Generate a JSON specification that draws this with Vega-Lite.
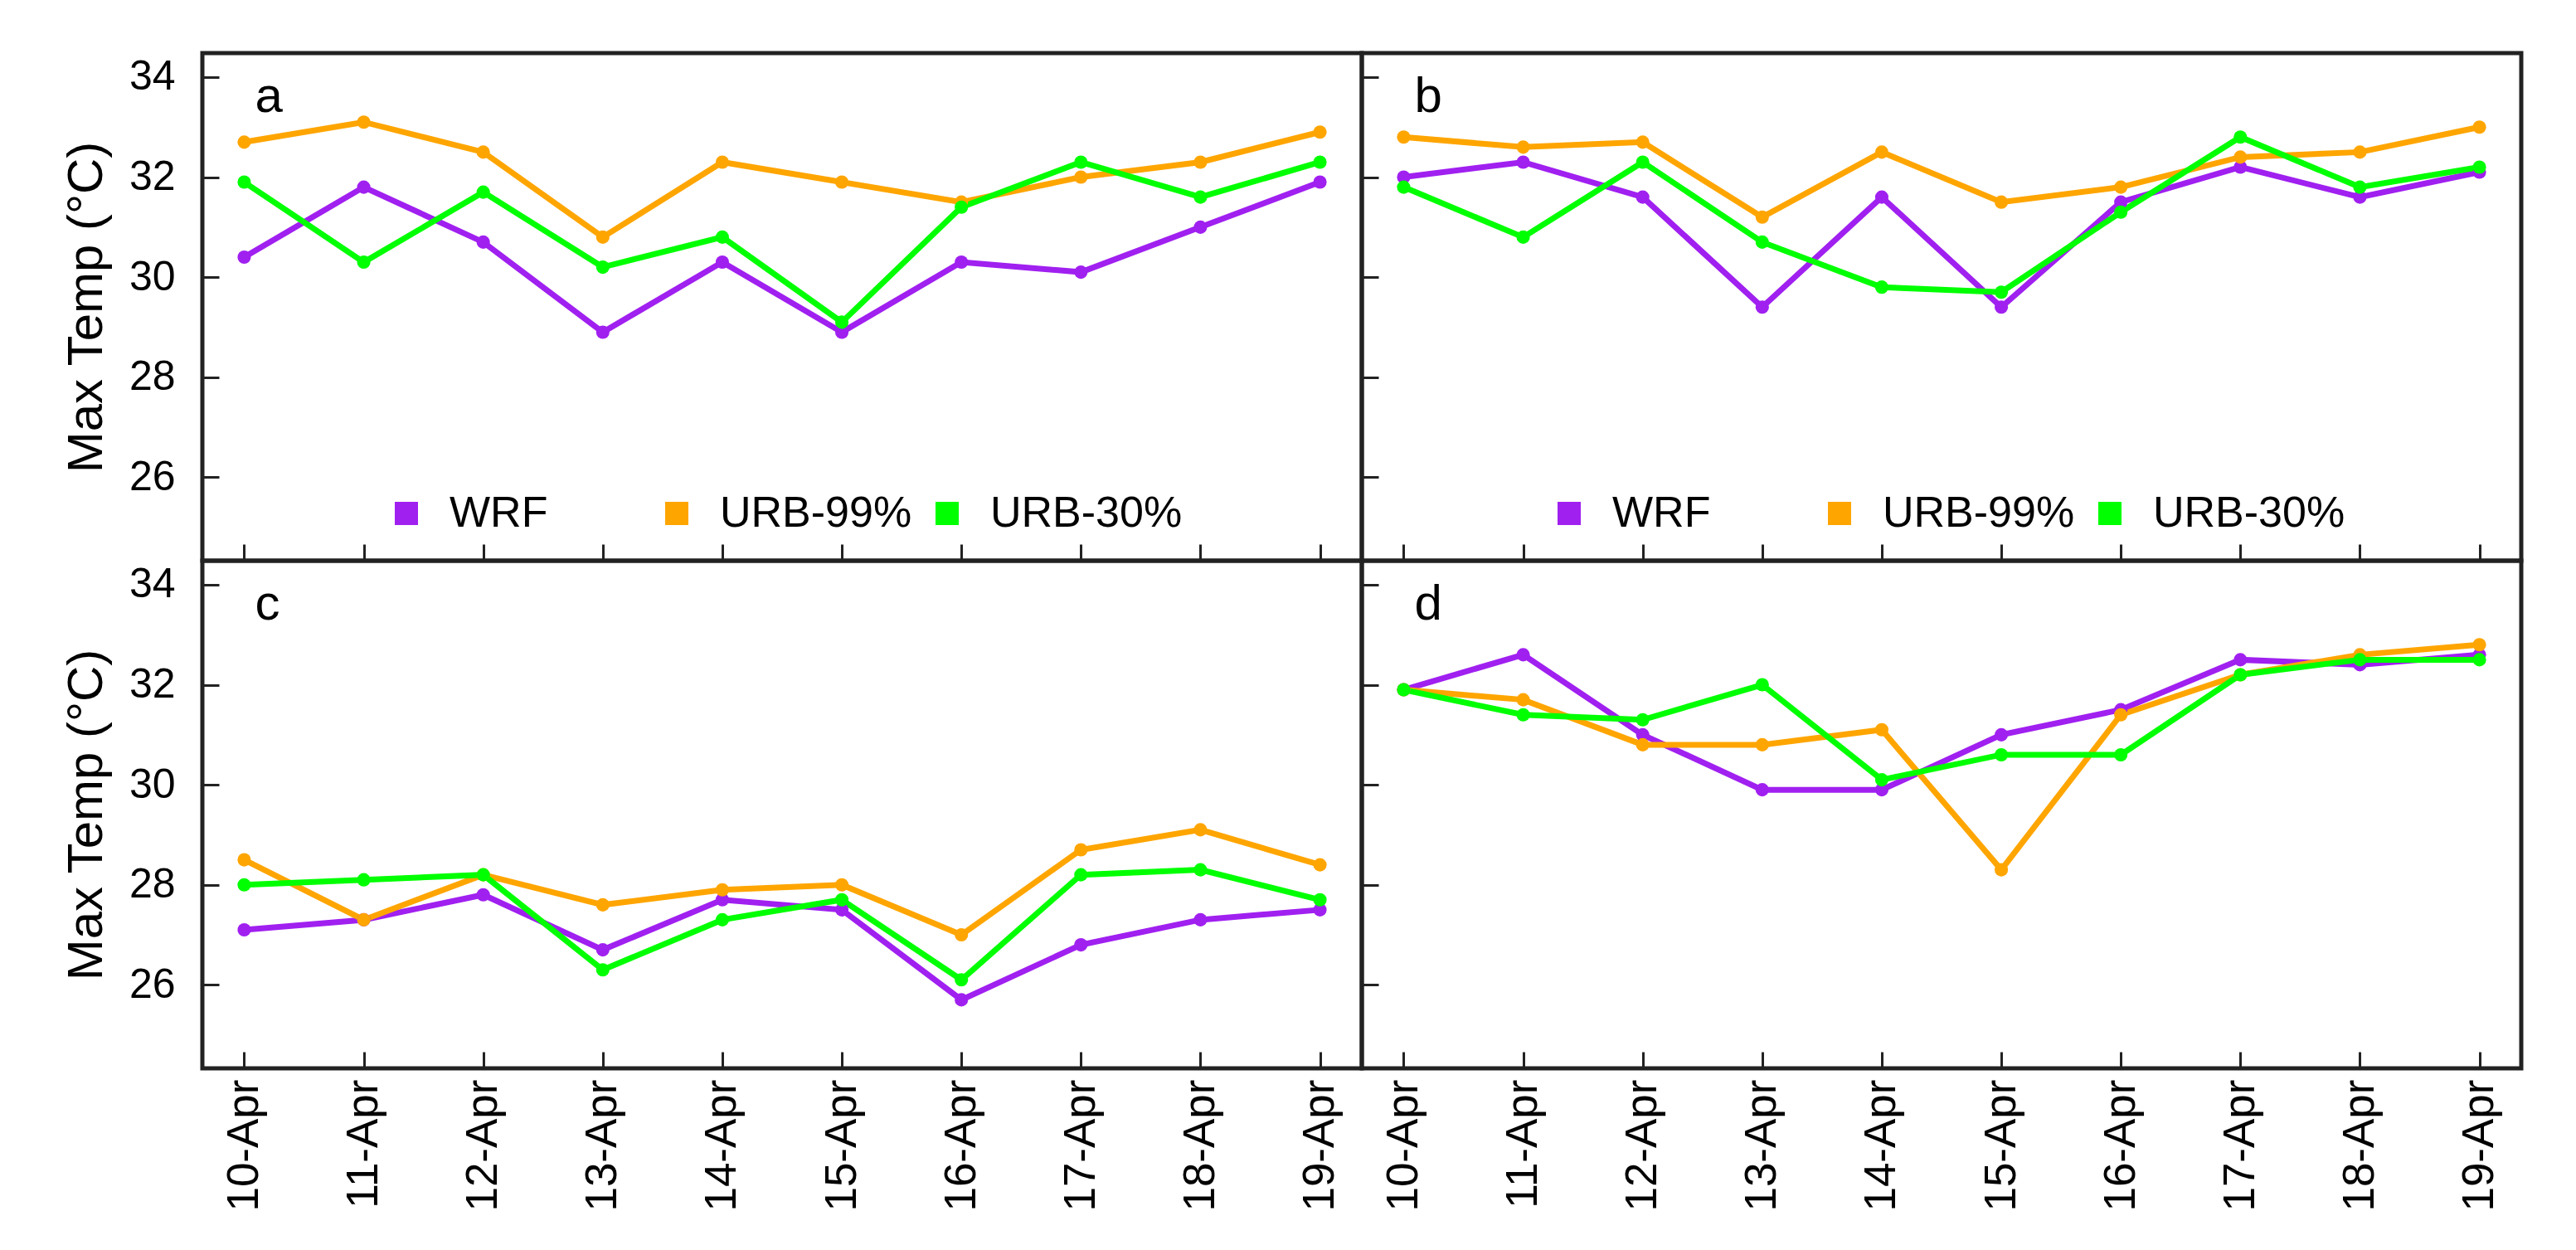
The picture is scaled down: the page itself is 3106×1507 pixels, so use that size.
{
  "$schema": "https://vega.github.io/schema/vega-lite/v6.json",
  "background": "white",
  "padding": {"left": 71, "top": 61, "right": 5, "bottom": 5},
  "config": {
    "font": "Liberation Sans",
    "view": {"stroke": "#222", "strokeWidth": 5},
    "axis": {"labelFont": "Liberation Sans", "titleFont": "Liberation Sans", "labelColor": "black", "titleColor": "black"},
    "legend": {"labelFont": "Liberation Sans"}
  },
  "datasets": {
    "temps": [
      {"panel": "a", "series": "WRF", "date": "10-Apr", "temp": 30.4},
      {"panel": "a", "series": "WRF", "date": "11-Apr", "temp": 31.8},
      {"panel": "a", "series": "WRF", "date": "12-Apr", "temp": 30.7},
      {"panel": "a", "series": "WRF", "date": "13-Apr", "temp": 28.9},
      {"panel": "a", "series": "WRF", "date": "14-Apr", "temp": 30.3},
      {"panel": "a", "series": "WRF", "date": "15-Apr", "temp": 28.9},
      {"panel": "a", "series": "WRF", "date": "16-Apr", "temp": 30.3},
      {"panel": "a", "series": "WRF", "date": "17-Apr", "temp": 30.1},
      {"panel": "a", "series": "WRF", "date": "18-Apr", "temp": 31.0},
      {"panel": "a", "series": "WRF", "date": "19-Apr", "temp": 31.9},
      {"panel": "a", "series": "URB-99%", "date": "10-Apr", "temp": 32.7},
      {"panel": "a", "series": "URB-99%", "date": "11-Apr", "temp": 33.1},
      {"panel": "a", "series": "URB-99%", "date": "12-Apr", "temp": 32.5},
      {"panel": "a", "series": "URB-99%", "date": "13-Apr", "temp": 30.8},
      {"panel": "a", "series": "URB-99%", "date": "14-Apr", "temp": 32.3},
      {"panel": "a", "series": "URB-99%", "date": "15-Apr", "temp": 31.9},
      {"panel": "a", "series": "URB-99%", "date": "16-Apr", "temp": 31.5},
      {"panel": "a", "series": "URB-99%", "date": "17-Apr", "temp": 32.0},
      {"panel": "a", "series": "URB-99%", "date": "18-Apr", "temp": 32.3},
      {"panel": "a", "series": "URB-99%", "date": "19-Apr", "temp": 32.9},
      {"panel": "a", "series": "URB-30%", "date": "10-Apr", "temp": 31.9},
      {"panel": "a", "series": "URB-30%", "date": "11-Apr", "temp": 30.3},
      {"panel": "a", "series": "URB-30%", "date": "12-Apr", "temp": 31.7},
      {"panel": "a", "series": "URB-30%", "date": "13-Apr", "temp": 30.2},
      {"panel": "a", "series": "URB-30%", "date": "14-Apr", "temp": 30.8},
      {"panel": "a", "series": "URB-30%", "date": "15-Apr", "temp": 29.1},
      {"panel": "a", "series": "URB-30%", "date": "16-Apr", "temp": 31.4},
      {"panel": "a", "series": "URB-30%", "date": "17-Apr", "temp": 32.3},
      {"panel": "a", "series": "URB-30%", "date": "18-Apr", "temp": 31.6},
      {"panel": "a", "series": "URB-30%", "date": "19-Apr", "temp": 32.3},
      {"panel": "b", "series": "WRF", "date": "10-Apr", "temp": 32.0},
      {"panel": "b", "series": "WRF", "date": "11-Apr", "temp": 32.3},
      {"panel": "b", "series": "WRF", "date": "12-Apr", "temp": 31.6},
      {"panel": "b", "series": "WRF", "date": "13-Apr", "temp": 29.4},
      {"panel": "b", "series": "WRF", "date": "14-Apr", "temp": 31.6},
      {"panel": "b", "series": "WRF", "date": "15-Apr", "temp": 29.4},
      {"panel": "b", "series": "WRF", "date": "16-Apr", "temp": 31.5},
      {"panel": "b", "series": "WRF", "date": "17-Apr", "temp": 32.2},
      {"panel": "b", "series": "WRF", "date": "18-Apr", "temp": 31.6},
      {"panel": "b", "series": "WRF", "date": "19-Apr", "temp": 32.1},
      {"panel": "b", "series": "URB-99%", "date": "10-Apr", "temp": 32.8},
      {"panel": "b", "series": "URB-99%", "date": "11-Apr", "temp": 32.6},
      {"panel": "b", "series": "URB-99%", "date": "12-Apr", "temp": 32.7},
      {"panel": "b", "series": "URB-99%", "date": "13-Apr", "temp": 31.2},
      {"panel": "b", "series": "URB-99%", "date": "14-Apr", "temp": 32.5},
      {"panel": "b", "series": "URB-99%", "date": "15-Apr", "temp": 31.5},
      {"panel": "b", "series": "URB-99%", "date": "16-Apr", "temp": 31.8},
      {"panel": "b", "series": "URB-99%", "date": "17-Apr", "temp": 32.4},
      {"panel": "b", "series": "URB-99%", "date": "18-Apr", "temp": 32.5},
      {"panel": "b", "series": "URB-99%", "date": "19-Apr", "temp": 33.0},
      {"panel": "b", "series": "URB-30%", "date": "10-Apr", "temp": 31.8},
      {"panel": "b", "series": "URB-30%", "date": "11-Apr", "temp": 30.8},
      {"panel": "b", "series": "URB-30%", "date": "12-Apr", "temp": 32.3},
      {"panel": "b", "series": "URB-30%", "date": "13-Apr", "temp": 30.7},
      {"panel": "b", "series": "URB-30%", "date": "14-Apr", "temp": 29.8},
      {"panel": "b", "series": "URB-30%", "date": "15-Apr", "temp": 29.7},
      {"panel": "b", "series": "URB-30%", "date": "16-Apr", "temp": 31.3},
      {"panel": "b", "series": "URB-30%", "date": "17-Apr", "temp": 32.8},
      {"panel": "b", "series": "URB-30%", "date": "18-Apr", "temp": 31.8},
      {"panel": "b", "series": "URB-30%", "date": "19-Apr", "temp": 32.2},
      {"panel": "c", "series": "WRF", "date": "10-Apr", "temp": 27.1},
      {"panel": "c", "series": "WRF", "date": "11-Apr", "temp": 27.3},
      {"panel": "c", "series": "WRF", "date": "12-Apr", "temp": 27.8},
      {"panel": "c", "series": "WRF", "date": "13-Apr", "temp": 26.7},
      {"panel": "c", "series": "WRF", "date": "14-Apr", "temp": 27.7},
      {"panel": "c", "series": "WRF", "date": "15-Apr", "temp": 27.5},
      {"panel": "c", "series": "WRF", "date": "16-Apr", "temp": 25.7},
      {"panel": "c", "series": "WRF", "date": "17-Apr", "temp": 26.8},
      {"panel": "c", "series": "WRF", "date": "18-Apr", "temp": 27.3},
      {"panel": "c", "series": "WRF", "date": "19-Apr", "temp": 27.5},
      {"panel": "c", "series": "URB-99%", "date": "10-Apr", "temp": 28.5},
      {"panel": "c", "series": "URB-99%", "date": "11-Apr", "temp": 27.3},
      {"panel": "c", "series": "URB-99%", "date": "12-Apr", "temp": 28.2},
      {"panel": "c", "series": "URB-99%", "date": "13-Apr", "temp": 27.6},
      {"panel": "c", "series": "URB-99%", "date": "14-Apr", "temp": 27.9},
      {"panel": "c", "series": "URB-99%", "date": "15-Apr", "temp": 28.0},
      {"panel": "c", "series": "URB-99%", "date": "16-Apr", "temp": 27.0},
      {"panel": "c", "series": "URB-99%", "date": "17-Apr", "temp": 28.7},
      {"panel": "c", "series": "URB-99%", "date": "18-Apr", "temp": 29.1},
      {"panel": "c", "series": "URB-99%", "date": "19-Apr", "temp": 28.4},
      {"panel": "c", "series": "URB-30%", "date": "10-Apr", "temp": 28.0},
      {"panel": "c", "series": "URB-30%", "date": "11-Apr", "temp": 28.1},
      {"panel": "c", "series": "URB-30%", "date": "12-Apr", "temp": 28.2},
      {"panel": "c", "series": "URB-30%", "date": "13-Apr", "temp": 26.3},
      {"panel": "c", "series": "URB-30%", "date": "14-Apr", "temp": 27.3},
      {"panel": "c", "series": "URB-30%", "date": "15-Apr", "temp": 27.7},
      {"panel": "c", "series": "URB-30%", "date": "16-Apr", "temp": 26.1},
      {"panel": "c", "series": "URB-30%", "date": "17-Apr", "temp": 28.2},
      {"panel": "c", "series": "URB-30%", "date": "18-Apr", "temp": 28.3},
      {"panel": "c", "series": "URB-30%", "date": "19-Apr", "temp": 27.7},
      {"panel": "d", "series": "WRF", "date": "10-Apr", "temp": 31.9},
      {"panel": "d", "series": "WRF", "date": "11-Apr", "temp": 32.6},
      {"panel": "d", "series": "WRF", "date": "12-Apr", "temp": 31.0},
      {"panel": "d", "series": "WRF", "date": "13-Apr", "temp": 29.9},
      {"panel": "d", "series": "WRF", "date": "14-Apr", "temp": 29.9},
      {"panel": "d", "series": "WRF", "date": "15-Apr", "temp": 31.0},
      {"panel": "d", "series": "WRF", "date": "16-Apr", "temp": 31.5},
      {"panel": "d", "series": "WRF", "date": "17-Apr", "temp": 32.5},
      {"panel": "d", "series": "WRF", "date": "18-Apr", "temp": 32.4},
      {"panel": "d", "series": "WRF", "date": "19-Apr", "temp": 32.6},
      {"panel": "d", "series": "URB-99%", "date": "10-Apr", "temp": 31.9},
      {"panel": "d", "series": "URB-99%", "date": "11-Apr", "temp": 31.7},
      {"panel": "d", "series": "URB-99%", "date": "12-Apr", "temp": 30.8},
      {"panel": "d", "series": "URB-99%", "date": "13-Apr", "temp": 30.8},
      {"panel": "d", "series": "URB-99%", "date": "14-Apr", "temp": 31.1},
      {"panel": "d", "series": "URB-99%", "date": "15-Apr", "temp": 28.3},
      {"panel": "d", "series": "URB-99%", "date": "16-Apr", "temp": 31.4},
      {"panel": "d", "series": "URB-99%", "date": "17-Apr", "temp": 32.2},
      {"panel": "d", "series": "URB-99%", "date": "18-Apr", "temp": 32.6},
      {"panel": "d", "series": "URB-99%", "date": "19-Apr", "temp": 32.8},
      {"panel": "d", "series": "URB-30%", "date": "10-Apr", "temp": 31.9},
      {"panel": "d", "series": "URB-30%", "date": "11-Apr", "temp": 31.4},
      {"panel": "d", "series": "URB-30%", "date": "12-Apr", "temp": 31.3},
      {"panel": "d", "series": "URB-30%", "date": "13-Apr", "temp": 32.0},
      {"panel": "d", "series": "URB-30%", "date": "14-Apr", "temp": 30.1},
      {"panel": "d", "series": "URB-30%", "date": "15-Apr", "temp": 30.6},
      {"panel": "d", "series": "URB-30%", "date": "16-Apr", "temp": 30.6},
      {"panel": "d", "series": "URB-30%", "date": "17-Apr", "temp": 32.2},
      {"panel": "d", "series": "URB-30%", "date": "18-Apr", "temp": 32.5},
      {"panel": "d", "series": "URB-30%", "date": "19-Apr", "temp": 32.5}
    ]
  },
  "columns": 2,
  "spacing": 0,
  "bounds": "flush",
  "resolve": {"legend": {"color": "independent"}},
  "concat": [
    {
      "width": 1398, "height": 612,
      "layer": [
        {
          "data": {"name": "temps"},
          "transform": [{"filter": "datum.panel === 'a'"}],
          "mark": {"type": "line", "strokeWidth": 7},
          "encoding": {
            "x": {"field": "date", "type": "ordinal", "scale": {"domain": ["10-Apr","11-Apr","12-Apr","13-Apr","14-Apr","15-Apr","16-Apr","17-Apr","18-Apr","19-Apr"], "padding": 0.35},
                  "axis": {"tickSize": -20, "tickWidth": 3, "tickColor": "#222", "domain": false, "grid": false, "labels": false, "title": null}},
            "y": {"field": "temp", "type": "quantitative", "scale": {"domain": [24.33, 34.48], "nice": false, "zero": false},
                  "axis": {"values": [26, 28, 30, 32, 34], "format": "d", "tickSize": -20, "tickWidth": 3, "tickColor": "#222", "domain": false, "grid": false, "labelFontSize": 50, "labelPadding": 53, "title": "Max Temp (°C)", "titleFontSize": 60, "titleFontWeight": "normal", "titlePadding": 20}},
            "stroke": {"field": "series", "type": "nominal", "scale": {"domain": ["WRF", "URB-99%", "URB-30%"], "range": ["#A020F0", "#FFA500", "#00FF00"]}, "legend": null}
          }
        },
        {
          "data": {"name": "temps"},
          "transform": [{"filter": "datum.panel === 'a'"}],
          "mark": {"type": "point", "filled": true, "size": 260, "opacity": 1},
          "encoding": {
            "x": {"field": "date", "type": "ordinal"},
            "y": {"field": "temp", "type": "quantitative"},
            "color": {"field": "series", "type": "nominal", "scale": {"domain": ["WRF", "URB-99%", "URB-30%"], "range": ["#A020F0", "#FFA500", "#00FF00"]},
                      "legend": {"orient": "none", "legendX": 220, "legendY": 529, "direction": "horizontal", "columns": 3, "gridAlign": "all", "columnPadding": 16, "symbolType": "square", "symbolSize": 784, "symbolStrokeWidth": 0, "symbolOpacity": 1, "labelFontSize": 52, "labelOffset": 26, "labelLimit": 400, "labelColor": "black", "title": null}}
          }
        },
        {
          "data": {"values": [{"letter": "a"}]},
          "mark": {"type": "text", "align": "left", "baseline": "alphabetic", "fontSize": 60, "dx": 13, "color": "black"},
          "encoding": {
            "x": {"datum": "10-Apr", "type": "ordinal"},
            "y": {"datum": 33.3, "type": "quantitative"},
            "text": {"field": "letter"}
          }
        }
      ]
    },
    {
      "width": 1398, "height": 612,
      "layer": [
        {
          "data": {"name": "temps"},
          "transform": [{"filter": "datum.panel === 'b'"}],
          "mark": {"type": "line", "strokeWidth": 7},
          "encoding": {
            "x": {"field": "date", "type": "ordinal", "scale": {"domain": ["10-Apr","11-Apr","12-Apr","13-Apr","14-Apr","15-Apr","16-Apr","17-Apr","18-Apr","19-Apr"], "padding": 0.35},
                  "axis": {"tickSize": -20, "tickWidth": 3, "tickColor": "#222", "domain": false, "grid": false, "labels": false, "title": null}},
            "y": {"field": "temp", "type": "quantitative", "scale": {"domain": [24.33, 34.48], "nice": false, "zero": false},
                  "axis": {"values": [26, 28, 30, 32, 34], "tickSize": -20, "tickWidth": 3, "tickColor": "#222", "domain": false, "grid": false, "labels": false, "title": null}},
            "stroke": {"field": "series", "type": "nominal", "scale": {"domain": ["WRF", "URB-99%", "URB-30%"], "range": ["#A020F0", "#FFA500", "#00FF00"]}, "legend": null}
          }
        },
        {
          "data": {"name": "temps"},
          "transform": [{"filter": "datum.panel === 'b'"}],
          "mark": {"type": "point", "filled": true, "size": 260, "opacity": 1},
          "encoding": {
            "x": {"field": "date", "type": "ordinal"},
            "y": {"field": "temp", "type": "quantitative"},
            "color": {"field": "series", "type": "nominal", "scale": {"domain": ["WRF", "URB-99%", "URB-30%"], "range": ["#A020F0", "#FFA500", "#00FF00"]},
                      "legend": {"orient": "none", "legendX": 224, "legendY": 529, "direction": "horizontal", "columns": 3, "gridAlign": "all", "columnPadding": 16, "symbolType": "square", "symbolSize": 784, "symbolStrokeWidth": 0, "symbolOpacity": 1, "labelFontSize": 52, "labelOffset": 26, "labelLimit": 400, "labelColor": "black", "title": null}}
          }
        },
        {
          "data": {"values": [{"letter": "b"}]},
          "mark": {"type": "text", "align": "left", "baseline": "alphabetic", "fontSize": 60, "dx": 13, "color": "black"},
          "encoding": {
            "x": {"datum": "10-Apr", "type": "ordinal"},
            "y": {"datum": 33.3, "type": "quantitative"},
            "text": {"field": "letter"}
          }
        }
      ]
    },
    {
      "width": 1398, "height": 612,
      "layer": [
        {
          "data": {"name": "temps"},
          "transform": [{"filter": "datum.panel === 'c'"}],
          "mark": {"type": "line", "strokeWidth": 7},
          "encoding": {
            "x": {"field": "date", "type": "ordinal", "scale": {"domain": ["10-Apr","11-Apr","12-Apr","13-Apr","14-Apr","15-Apr","16-Apr","17-Apr","18-Apr","19-Apr"], "padding": 0.35},
                  "axis": {"tickSize": -20, "tickWidth": 3, "tickColor": "#222", "domain": false, "grid": false, "labelAngle": 270, "labelFontSize": 53, "labelPadding": 33, "labelLimit": 400, "title": null}},
            "y": {"field": "temp", "type": "quantitative", "scale": {"domain": [24.33, 34.48], "nice": false, "zero": false},
                  "axis": {"values": [26, 28, 30, 32, 34], "format": "d", "tickSize": -20, "tickWidth": 3, "tickColor": "#222", "domain": false, "grid": false, "labelFontSize": 50, "labelPadding": 53, "title": "Max Temp (°C)", "titleFontSize": 60, "titleFontWeight": "normal", "titlePadding": 20}},
            "stroke": {"field": "series", "type": "nominal", "scale": {"domain": ["WRF", "URB-99%", "URB-30%"], "range": ["#A020F0", "#FFA500", "#00FF00"]}, "legend": null}
          }
        },
        {
          "data": {"name": "temps"},
          "transform": [{"filter": "datum.panel === 'c'"}],
          "mark": {"type": "point", "filled": true, "size": 260, "opacity": 1},
          "encoding": {
            "x": {"field": "date", "type": "ordinal"},
            "y": {"field": "temp", "type": "quantitative"},
            "color": {"field": "series", "type": "nominal", "scale": {"domain": ["WRF", "URB-99%", "URB-30%"], "range": ["#A020F0", "#FFA500", "#00FF00"]}, "legend": null}
          }
        },
        {
          "data": {"values": [{"letter": "c"}]},
          "mark": {"type": "text", "align": "left", "baseline": "alphabetic", "fontSize": 60, "dx": 13, "color": "black"},
          "encoding": {
            "x": {"datum": "10-Apr", "type": "ordinal"},
            "y": {"datum": 33.3, "type": "quantitative"},
            "text": {"field": "letter"}
          }
        }
      ]
    },
    {
      "width": 1398, "height": 612,
      "layer": [
        {
          "data": {"name": "temps"},
          "transform": [{"filter": "datum.panel === 'd'"}],
          "mark": {"type": "line", "strokeWidth": 7},
          "encoding": {
            "x": {"field": "date", "type": "ordinal", "scale": {"domain": ["10-Apr","11-Apr","12-Apr","13-Apr","14-Apr","15-Apr","16-Apr","17-Apr","18-Apr","19-Apr"], "padding": 0.35},
                  "axis": {"tickSize": -20, "tickWidth": 3, "tickColor": "#222", "domain": false, "grid": false, "labelAngle": 270, "labelFontSize": 53, "labelPadding": 33, "labelLimit": 400, "title": null}},
            "y": {"field": "temp", "type": "quantitative", "scale": {"domain": [24.33, 34.48], "nice": false, "zero": false},
                  "axis": {"values": [26, 28, 30, 32, 34], "tickSize": -20, "tickWidth": 3, "tickColor": "#222", "domain": false, "grid": false, "labels": false, "title": null}},
            "stroke": {"field": "series", "type": "nominal", "scale": {"domain": ["WRF", "URB-99%", "URB-30%"], "range": ["#A020F0", "#FFA500", "#00FF00"]}, "legend": null}
          }
        },
        {
          "data": {"name": "temps"},
          "transform": [{"filter": "datum.panel === 'd'"}],
          "mark": {"type": "point", "filled": true, "size": 260, "opacity": 1},
          "encoding": {
            "x": {"field": "date", "type": "ordinal"},
            "y": {"field": "temp", "type": "quantitative"},
            "color": {"field": "series", "type": "nominal", "scale": {"domain": ["WRF", "URB-99%", "URB-30%"], "range": ["#A020F0", "#FFA500", "#00FF00"]}, "legend": null}
          }
        },
        {
          "data": {"values": [{"letter": "d"}]},
          "mark": {"type": "text", "align": "left", "baseline": "alphabetic", "fontSize": 60, "dx": 13, "color": "black"},
          "encoding": {
            "x": {"datum": "10-Apr", "type": "ordinal"},
            "y": {"datum": 33.3, "type": "quantitative"},
            "text": {"field": "letter"}
          }
        }
      ]
    }
  ]
}
